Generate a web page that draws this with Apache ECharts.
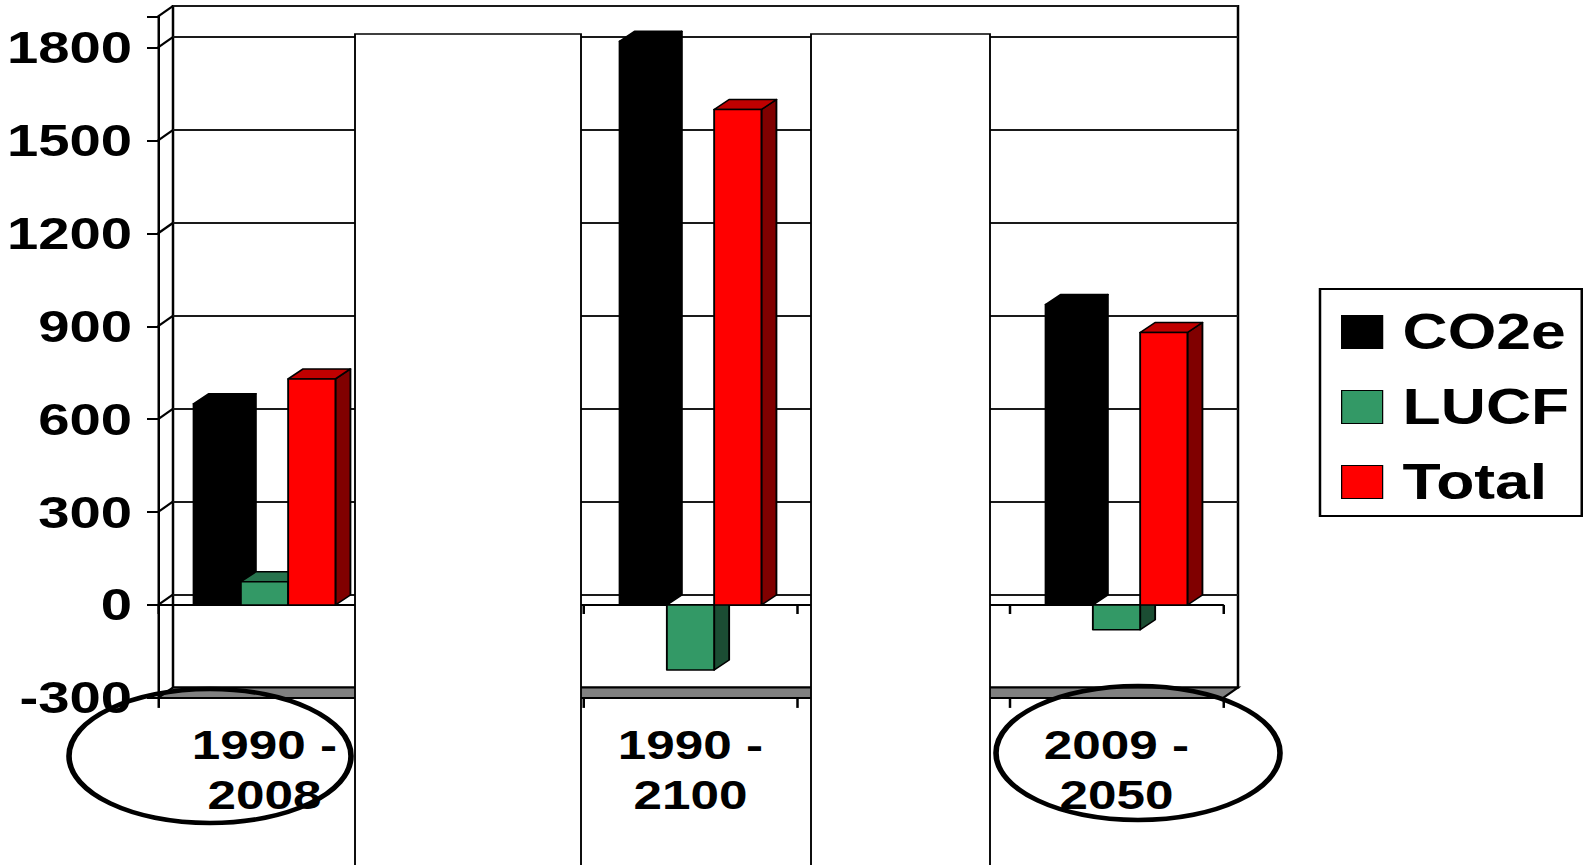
<!DOCTYPE html>
<html>
<head>
<meta charset="utf-8">
<script src="https://cdn.jsdelivr.net/npm/echarts@6/dist/echarts.min.js"></script>
<style>
  html, body { margin: 0; padding: 0; background: #fff; overflow: hidden; }
  /* the original slide was stretched sideways, so draw narrow and stretch */
  #main { width: 1272px; height: 865px; transform: scaleX(1.25); transform-origin: 0 0; }
</style>
</head>
<body>
<div id="main"></div>
<script>
// categories 2 and 4 are hidden under white boxes in the original
const categories = ['1990 -\n2008', '', '1990 -\n2100', '', '2009 -\n2050'];
const co2e = [650, null, 1820, null, 970];
const lucf = [75, null, -210, null, -80];
const total = [730, null, 1600, null, 880];

const yMin = -300;
const yMax = 1900;
const yStep = 300;

const SX = 1.25;
const px = x => x / SX;
const FONT = '"Liberation Sans", Arial, sans-serif';

const FRONT = { left: px(158), top: 16.6, width: px(1065), height: 681.3 };
const DEPTH = { x: px(15), y: -10.5 };
const BAR_DEPTH = { x: px(15), y: -10 };

// face colours: front, top, side
const COLORS = {
  CO2e: ['#000000', '#000000', '#000000'],
  LUCF: ['#339966', '#27734d', '#1b4d33'],
  Total: ['#ff0000', '#c00000', '#800000']
};

function bar3d(idx, colors) {
  return function (params, api) {
    const v = api.value(1);
    if (v == null || isNaN(v)) return;
    const i = api.value(0);
    const base = api.coord([i, 0]);
    const top = api.coord([i, v]);
    const w = api.size([1, 0])[0] * 0.222;
    const x0 = base[0] + (idx - 1.5) * w;
    const x1 = x0 + w;
    const y0 = base[1];
    const y1 = top[1];
    const dx = BAR_DEPTH.x, dy = BAR_DEPTH.y;
    const line = { stroke: '#000', lineWidth: 1.5, lineJoin: 'round' };
    const children = [];
    children.push({
      type: 'polygon',
      shape: { points: [[x1, y0], [x1, y1], [x1 + dx, y1 + dy], [x1 + dx, y0 + dy]] },
      style: Object.assign({ fill: colors[2] }, line)
    });
    if (v > 0) {
      children.push({
        type: 'polygon',
        shape: { points: [[x0, y1], [x1, y1], [x1 + dx, y1 + dy], [x0 + dx, y1 + dy]] },
        style: Object.assign({ fill: colors[1] }, line)
      });
    }
    children.push({
      type: 'rect',
      shape: { x: x0, y: Math.min(y0, y1), width: w, height: Math.abs(y1 - y0) },
      style: Object.assign({ fill: colors[0] }, line)
    });
    return { type: 'group', children: children };
  };
}

function makeSeries(name, values, idx) {
  return {
    type: 'custom',
    name: name,
    xAxisIndex: 0,
    yAxisIndex: 0,
    itemStyle: { color: COLORS[name][0] },
    renderItem: bar3d(idx, COLORS[name]),
    data: values.map((v, i) => [i, v]),
    z: 2
  };
}

const chart = echarts.init(document.getElementById('main'), null, { renderer: 'svg' });

const option = {
  animation: false,
  backgroundColor: '#fff',
  grid: [
    { left: FRONT.left, top: FRONT.top, width: FRONT.width, height: FRONT.height },
    {
      left: FRONT.left + DEPTH.x, top: FRONT.top + DEPTH.y, width: FRONT.width, height: FRONT.height,
      show: true, backgroundColor: '#fff', borderColor: '#000', borderWidth: 2
    }
  ],
  xAxis: [
    {
      gridIndex: 0, type: 'category', data: categories, position: 'bottom',
      axisLine: { onZero: true, lineStyle: { color: '#000', width: 2 } },
      axisTick: { show: true, length: 9, lineStyle: { color: '#000', width: 2 } },
      axisLabel: { show: false },
      splitLine: { show: false }
    },
    {
      gridIndex: 1, type: 'category', data: categories, show: false
    },
    {
      gridIndex: 0, type: 'category', data: categories, position: 'bottom',
      axisLine: { onZero: false, lineStyle: { color: '#000', width: 2 } },
      axisTick: { show: true, length: 10, lineStyle: { color: '#000', width: 2 } },
      axisLabel: {
        color: '#000', fontFamily: FONT, fontWeight: 'bold', fontSize: 41,
        lineHeight: 50, margin: 22, interval: 0
      },
      splitLine: { show: false }
    }
  ],
  yAxis: [
    {
      gridIndex: 0, type: 'value', min: yMin, max: yMax, interval: yStep,
      axisLine: { show: true, lineStyle: { color: '#000', width: 2 } },
      axisTick: { show: true, length: px(11), lineStyle: { color: '#000', width: 2 } },
      axisLabel: {
        color: '#000', fontFamily: FONT, fontWeight: 'bold', fontSize: 45, margin: px(26),
        formatter: v => (v === yMax ? '' : String(v))
      },
      splitLine: { show: false }
    },
    {
      gridIndex: 1, type: 'value', min: yMin, max: yMax, interval: yStep,
      axisLine: { show: false }, axisTick: { show: false }, axisLabel: { show: false },
      splitLine: { show: true, lineStyle: { color: '#1a1a1a', width: 2 } }
    }
  ],
  legend: {
    orient: 'vertical',
    left: px(1320),
    top: 289,
    padding: [18, 10, 9, px(21)],
    itemWidth: px(41),
    itemHeight: 33,
    itemGap: 25,
    selectedMode: false,
    borderColor: '#000',
    borderWidth: 2,
    backgroundColor: '#fff',
    textStyle: {
      color: '#000', fontFamily: FONT, fontWeight: 'bold', fontSize: 50,
      lineHeight: 50, padding: [0, 0, 0, 11]
    },
    data: ['CO2e', 'LUCF', 'Total'].map(n => ({
      name: n, icon: 'rect',
      itemStyle: { color: COLORS[n][0], borderColor: '#000', borderWidth: 1 }
    }))
  },
  series: [
    makeSeries('CO2e', co2e, 0),
    makeSeries('LUCF', lucf, 1),
    makeSeries('Total', total, 2)
  ]
};

chart.setOption(option);

// 3D frame pieces (side wall, floor) plus the slide's overlay shapes
const decor = [];
const fl = FRONT.left, fr = FRONT.left + FRONT.width, fb = FRONT.top + FRONT.height;
for (let t = yMin + yStep; t <= yMax; t += yStep) {
  const y = chart.convertToPixel({ yAxisIndex: 0 }, t);
  decor.push({
    type: 'line', z: 1,
    shape: { x1: fl, y1: y, x2: fl + DEPTH.x, y2: y + DEPTH.y },
    style: { stroke: '#000', lineWidth: 2 }
  });
}
const yTop = chart.convertToPixel({ yAxisIndex: 0 }, yMax);
if (yMax % yStep !== 0) {
  decor.push({
    type: 'line', z: 1,
    shape: { x1: fl, y1: yTop, x2: fl + DEPTH.x, y2: yTop + DEPTH.y },
    style: { stroke: '#000', lineWidth: 2 }
  });
}
decor.push({
  type: 'polygon', z: 1,
  shape: { points: [[fl, fb], [fr, fb], [fr + DEPTH.x, fb + DEPTH.y], [fl + DEPTH.x, fb + DEPTH.y]] },
  style: { fill: '#808080', stroke: '#000', lineWidth: 2 }
});
// hand-drawn ellipses around two of the labels
decor.push({
  type: 'ellipse', z: 100,
  shape: { cx: px(210), cy: 756, rx: px(141), ry: 67 },
  style: { fill: 'none', stroke: '#000', lineWidth: 4.5 }
});
decor.push({
  type: 'ellipse', z: 100,
  shape: { cx: px(1138), cy: 753, rx: px(142), ry: 67 },
  style: { fill: 'none', stroke: '#000', lineWidth: 4.5 }
});
// white boxes pasted over two of the groups
decor.push({
  type: 'rect', z: 110,
  shape: { x: px(355), y: 34, width: px(581 - 355), height: 900 },
  style: { fill: '#fff', stroke: '#000', lineWidth: 1.5 }
});
decor.push({
  type: 'rect', z: 110,
  shape: { x: px(811), y: 34, width: px(990 - 811), height: 900 },
  style: { fill: '#fff', stroke: '#000', lineWidth: 1.5 }
});

chart.setOption({ graphic: decor });
</script>
</body>
</html>
